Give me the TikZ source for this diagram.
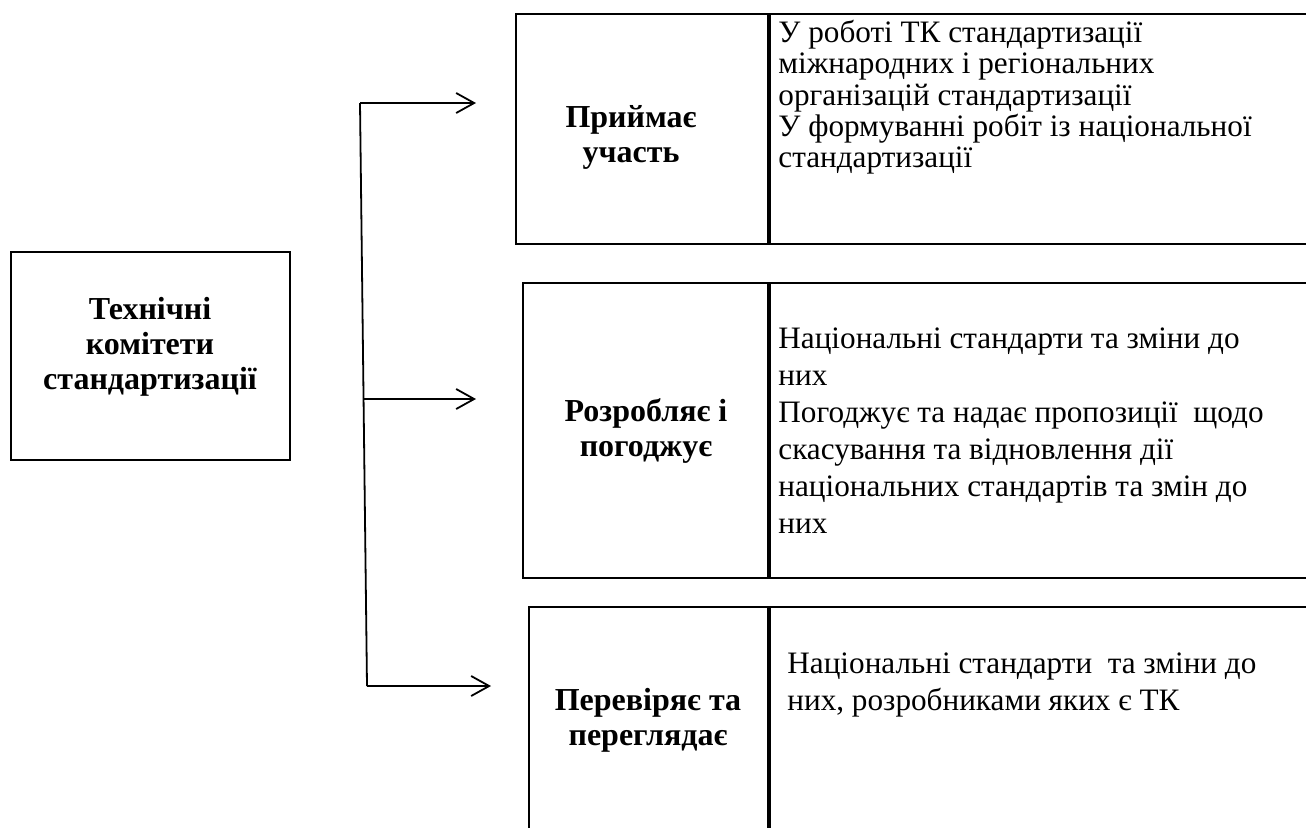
\documentclass[tikz,border=0pt]{standalone}
\usepackage{fontspec}
\setmainfont{Liberation Serif}
\usetikzlibrary{arrows.meta}
\begin{document}
\begin{tikzpicture}[x=0.5pt, y=-0.5pt,
    box/.style={rectangle, draw, line width=0.9pt, inner sep=0pt},
    lbl/.style={align=center, font=\fontsize{16}{17.5}\selectfont\bfseries},
    txt/.style={anchor=north west, align=left, inner sep=0pt, font=\fontsize{15.6}{18.5}\selectfont},
    arr/.style={-{Straight Barb[length=9pt, width=10pt]}, line width=0.9pt}]
      \useasboundingbox (0,0) rectangle (1306,827);
      \clip (0,0) rectangle (1306,827);

      % Nodes
      \node[box, minimum width=139.5pt, minimum height=104pt] at (150.5, 356) (tk) {};
      \node[lbl] at (150, 347) (tkt) {Технічні\\комітети\\стандартизації};

      \node[box, minimum width=126pt, minimum height=115pt] at (642, 129) (p1) {};
      \node[box, minimum width=290pt, minimum height=115pt, anchor=west] at (p1.east) (d1) {};
      \node[lbl] at (631, 137) (p1t) {Приймає\\участь};
      \node[txt, font=\fontsize{15.6}{15.6}\selectfont] at (778, 20) (d1t) {У роботі ТК стандартизації\\міжнародних і регіональних\\організацій стандартизації\\У формуванні робіт із національної\\стандартизації};

      \node[box, minimum width=122.5pt, minimum height=147.5pt] at (645.5, 430.5) (p2) {};
      \node[box, minimum width=290pt, minimum height=147.5pt, anchor=west] at (p2.east) (d2) {};
      \node[lbl] at (646, 431) (p2t) {Розробляє і\\погоджує};
      \node[txt] at (778, 327) (d2t) {Національні стандарти та зміни до\\них\\Погоджує та надає пропозиції\ \ щодо\\скасування та відновлення дії\\національних стандартів та змін до\\них};

      \node[box, minimum width=119.5pt, minimum height=136.5pt] at (648.5, 743.5) (p3) {};
      \node[box, minimum width=290pt, minimum height=136.5pt, anchor=west] at (p3.east) (d3) {};
      \node[lbl] at (648, 720) (p3t) {Перевіряє та\\переглядає};
      \node[txt] at (787, 652) (d3t) {Національні стандарти\ \ та зміни до\\них, розробниками яких є ТК};

      % Connectors
      \coordinate (top) at (360, 103);
      \coordinate (mid) at (364, 399);
      \coordinate (bot) at (367, 686);
      \coordinate (e1) at (476, 103);
      \coordinate (e2) at (476, 399);
      \coordinate (e3) at (491, 686);

      \draw[line width=0.9pt] (top) -- (bot);
      \draw[arr] (top) -- (e1);
      \draw[arr] (mid) -- (e2);
      \draw[arr] (bot) -- (e3);
\end{tikzpicture}
\end{document}
